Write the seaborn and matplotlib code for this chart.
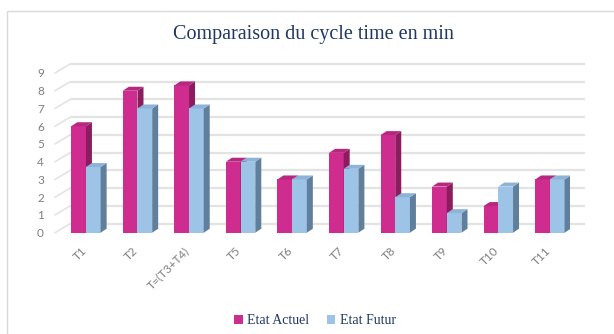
import numpy as np
import pandas as pd
import matplotlib
matplotlib.use("Agg")
import matplotlib.pyplot as plt
import matplotlib.transforms as mtransforms
from matplotlib.patches import Polygon, Rectangle
import seaborn as sns

# Cycle times per workstation (minutes)
taches = ["T1", "T2", "T=(T3+T4)", "T5", "T6", "T7", "T8", "T9", "T10", "T11"]
etat_actuel = [6, 8, 8.3, 4, 3, 4.5, 5.5, 2.6, 1.5, 3]
etat_futur = [3.7, 7, 7, 4, 3, 3.6, 2, 1.1, 2.6, 3]
series = ["Etat Actuel", "Etat Futur"]
y_ticks = list(range(0, 10))

df = pd.DataFrame({
    "Tache": taches * 2,
    "Temps": etat_actuel + etat_futur,
    "Etat": [series[0]] * len(taches) + [series[1]] * len(taches),
})

front_colors = {"Etat Actuel": "#CF2C8F", "Etat Futur": "#9DC3E6"}
side_colors = {"Etat Actuel": "#8C1C5E", "Etat Futur": "#5F7F9C"}
top_colors = {"Etat Actuel": "#B8277F", "Etat Futur": "#8DB3D8"}

sns.set_theme(style="white")
plt.rcParams["font.family"] = ["Lato", "DejaVu Sans"]

W, H = 614, 334
fig = plt.figure(figsize=(W / 100, H / 100), dpi=100)
ax = fig.add_axes([55 / W, 1 - 232.7 / H, 515 / W, (232.7 - 73) / H])

sns.barplot(data=df, x="Tache", y="Temps", hue="Etat", order=taches,
            hue_order=series, palette=front_colors, width=0.57,
            saturation=1, legend=False, ax=ax, zorder=3)

ax.set_xlim(-0.6, 9.39)
ax.set_ylim(0, 9)

# depth of the pseudo-3D columns, in data units
px_x = (ax.get_xlim()[1] - ax.get_xlim()[0]) / 515
px_y = 9 / (232.7 - 73)
ddx, ddy = 6 * px_x, 4 * px_y

for k, (name, cont) in enumerate(zip(series, ax.containers)):
    z = 3 + k
    for bar in cont:
        bar.set_zorder(z)
        bar.set_edgecolor("none")
        x0, w, h = bar.get_x(), bar.get_width(), bar.get_height()
        side = Polygon([(x0 + w, 0), (x0 + w + ddx, ddy), (x0 + w + ddx, h + ddy),
                        (x0 + w, h)], closed=True, facecolor=side_colors[name],
                       edgecolor="none", zorder=z)
        top = Polygon([(x0, h), (x0 + ddx, h + ddy), (x0 + w + ddx, h + ddy),
                       (x0 + w, h)], closed=True, facecolor=top_colors[name],
                      edgecolor="none", zorder=z)
        ax.add_patch(side)
        ax.add_patch(top)

# back wall gridlines with a slanted side wall on the left
back = ax.transData + mtransforms.ScaledTranslation(15 / 100, 9 / 100, fig.dpi_scale_trans)
xl, xr = ax.get_xlim()
for v in y_ticks:
    ax.plot([xl, xr], [v, v], transform=back, color="#E3E3E3", lw=1.6,
            zorder=1, clip_on=False, solid_capstyle="butt")
    ax.plot([xl, xl + 15 * px_x], [v, v + 9 * px_y], color="#E3E3E3", lw=1.2,
            zorder=1, clip_on=False)

for s in ax.spines.values():
    s.set_visible(False)
ax.grid(False)
ax.set_xlabel("")
ax.set_ylabel("")
ax.set_yticks(y_ticks)
ax.set_yticklabels([str(v) for v in y_ticks])
ax.tick_params(axis="y", length=0, pad=8, labelsize=8.5, labelcolor="#7F7F7F")
ax.tick_params(axis="x", length=0, pad=9, labelsize=8.5, labelcolor="#7F7F7F")
shift = mtransforms.ScaledTranslation(-5 / 100, 0, fig.dpi_scale_trans)
for lab in ax.get_xticklabels():
    lab.set_rotation(45)
    lab.set_ha("right")
    lab.set_rotation_mode("anchor")
    lab.set_transform(lab.get_transform() + shift)

fig.text(0.51, 1 - 34 / H, "Comparaison du cycle time en min",
         ha="center", va="center", fontsize=14.5, color="#1F3864",
         family=["Liberation Serif", "DejaVu Serif"])

handles = [Rectangle((0, 0), 1, 1, facecolor=front_colors[s], edgecolor="none")
           for s in series]
leg = fig.legend(handles, series, loc="center", bbox_to_anchor=(0.513, 1 - 321 / H),
                 ncol=2, frameon=False, handlelength=0.6, handleheight=0.6,
                 handletextpad=0.3, columnspacing=1.3,
                 prop={"family": "Liberation Serif", "size": 10})
for t in leg.get_texts():
    t.set_color("#1F3864")

fig.patches.append(Rectangle((6.5 / W, -0.05), 1.1, 1 - 10.5 / H + 0.05,
                             transform=fig.transFigure, fill=False,
                             edgecolor="#D9D9D9", lw=1))

fig.savefig("out.png", dpi=100)
